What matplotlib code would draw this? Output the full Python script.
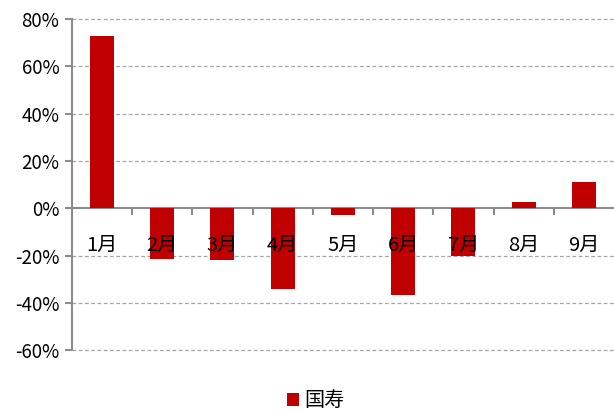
import matplotlib
matplotlib.use("Agg")
import matplotlib.pyplot as plt
import numpy as np
from matplotlib.ticker import FuncFormatter, FixedLocator

plt.rcParams['font.family'] = ['Noto Sans CJK SC', 'DejaVu Sans']

months = ["1月", "2月", "3月", "4月", "5月", "6月", "7月", "8月", "9月"]
guoshou = [72.8, -21.5, -21.7, -34.3, -2.8, -36.8, -20.0, 2.7, 10.9]
yticks = [-60, -40, -20, 0, 20, 40, 60, 80]

bar_color = "#C00000"
axis_color = "#8c8c8c"

fig = plt.figure(figsize=(6.14, 4.11), dpi=100)
ax = fig.add_axes([0.117, 0.148, 0.883, 0.806])

x = np.arange(len(months))
ax.bar(x, guoshou, width=0.4, color=bar_color, label="国寿", zorder=3)

ax.set_xlim(-0.5, len(months) - 0.5)
ax.set_ylim(-60, 80)
ax.set_yticks(yticks)
ax.yaxis.set_major_formatter(FuncFormatter(lambda v, p: f"{v:.0f}%"))
ax.tick_params(axis='y', length=5, width=1.5, color=axis_color, labelsize=13.5, pad=4)

# dashed gridlines (drawn by hand so the -60% one is not clipped)
for yv in yticks:
    if yv != 0:
        ax.axhline(yv, linestyle=(0, (3, 2)), color="#a6a6a6", linewidth=0.9,
                   zorder=0, clip_on=False)

# x axis at zero
ax.spines['bottom'].set_position(('data', 0))
ax.spines['bottom'].set_color(axis_color)
ax.spines['bottom'].set_linewidth(1.5)
ax.spines['left'].set_color(axis_color)
ax.spines['left'].set_linewidth(1.5)
ax.spines['top'].set_visible(False)
ax.spines['right'].set_visible(False)

ax.set_xticks(x)
ax.set_xticklabels([])
ax.tick_params(axis='x', which='major', length=0)
ax.xaxis.set_minor_locator(FixedLocator(x[:-1] + 0.5))
ax.tick_params(axis='x', which='minor', length=5, width=1.5, color=axis_color, direction='out')

# month labels sit just under the zero line, on top of the bars
for xi, m in zip(x, months):
    ax.text(xi, -15.9, m, ha='center', va='center', fontsize=14.5, zorder=5)

ax.legend(loc='center', bbox_to_anchor=(0.45, -0.153), frameon=False,
          fontsize=14.5, handlelength=0.6, handleheight=0.6, handletextpad=0.3)

plt.savefig("out.png", dpi=100)
